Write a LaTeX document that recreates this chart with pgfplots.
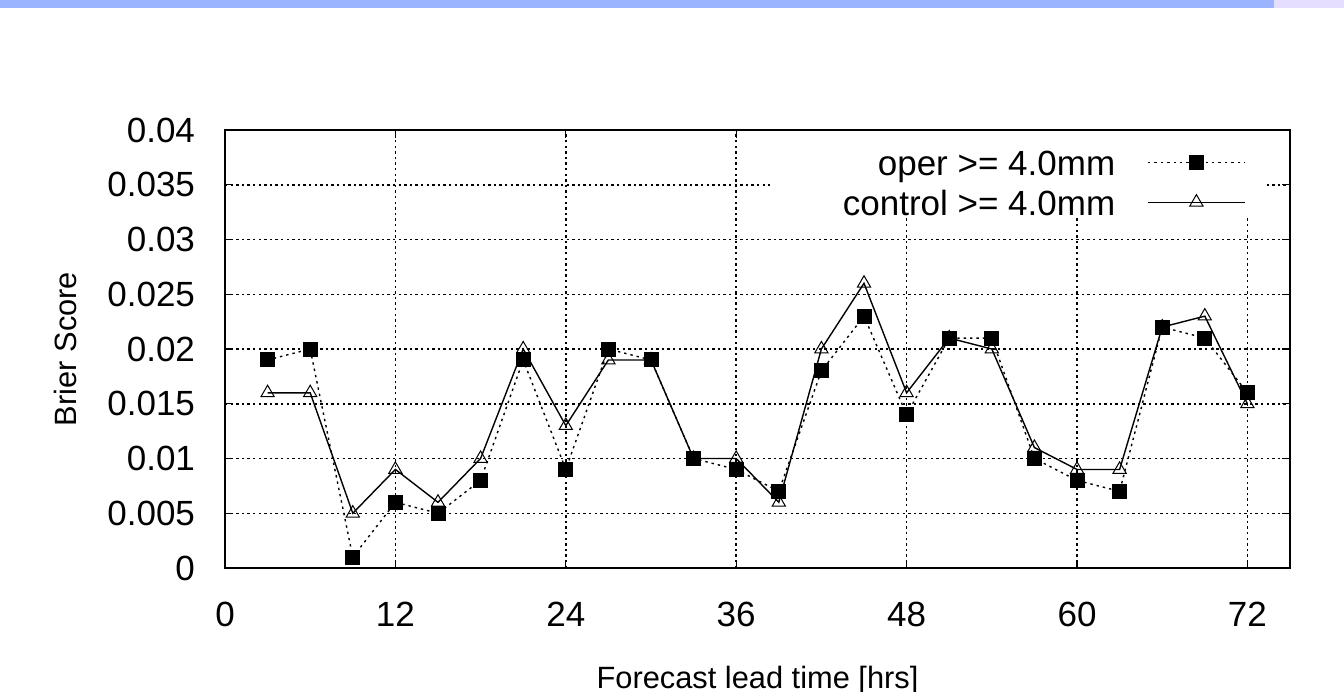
\documentclass[border=0pt]{standalone}
\usepackage{pgfplots}
\pgfplotsset{compat=1.18}
\usepackage{fontspec}
\setmainfont{Liberation Sans}
\newcommand\tf{\fontsize{17.5bp}{21bp}\selectfont}
\newcommand\lf{\fontsize{15.4bp}{18bp}\selectfont}
\definecolor{bandblue}{HTML}{9BB4FF}
\definecolor{bandpurple}{HTML}{E6DEFF}
\begin{document}
\begin{tikzpicture}
\useasboundingbox (0,0) rectangle (672bp,346bp);
\fill[white] (0,0) rectangle (672bp,346bp);
\fill[bandblue] (0,342bp) rectangle (637bp,346bp);
\fill[bandpurple] (637bp,342bp) rectangle (672bp,346bp);
\begin{axis}[
  at={(112.5bp,62bp)}, anchor=south west,
  scale only axis, width=532.5bp, height=219bp,
  xmin=0, xmax=75, ymin=0, ymax=0.04,
  xtick={0,12,24,36,48,60,72},
  ytick={0,0.005,0.01,0.015,0.02,0.025,0.03,0.035,0.04},
  yticklabels={0,0.005,0.01,0.015,0.02,0.025,0.03,0.035,0.04},
  scaled y ticks=false,
  /pgf/number format/assume math mode=true,
  tick label style={font=\tf, black},
  xticklabel shift=13.5bp, yticklabel shift=11.5bp,
  tick align=inside, major tick length=4bp,
  tick style={black, line width=0.6bp},
  axis line style={black, line width=0.9bp},
  grid=major,
  major grid style={black, line width=0.75bp, dash pattern=on 1.2bp off 1.6bp},
  xlabel={Forecast lead time [hrs]},
  ylabel={Brier Score},
  label style={font=\lf},
  xlabel style={at={(axis description cs:0.5,-0.256)}, anchor=center},
  ylabel style={at={(axis description cs:-0.150,0.5)}, anchor=center},
  legend plot pos=right,
  legend cell align=right,
  legend style={draw=none, fill=none, font=\tf, at={(0.9587,0.955)}, anchor=north east, inner sep=0bp, row sep=3.9bp, column sep=16bp,
    nodes={inner sep=0bp, text height=12.6bp, text depth=3.5bp}},
  legend image code/.code={\draw[mark repeat=2,mark phase=2,#1] plot coordinates {(0bp,2bp) (24.25bp,2bp) (48.5bp,2bp)};},
]
\fill[white] (axis description cs:0.5117,0.8014) rectangle (axis description cs:0.9765,0.997);
\addplot[black, line width=0.7bp, dash pattern=on 1.2bp off 2bp, mark=square*, mark size=3.4bp, mark options={solid, fill=black}] coordinates {
(3,0.019) (6,0.020) (9,0.001) (12,0.006) (15,0.005) (18,0.008) (21,0.019) (24,0.009)
(27,0.020) (30,0.019) (33,0.010) (36,0.009) (39,0.007) (42,0.018) (45,0.023) (48,0.014)
(51,0.021) (54,0.021) (57,0.010) (60,0.008) (63,0.007) (66,0.022) (69,0.021) (72,0.016)};
\addlegendentry{oper >= 4.0mm}
\addplot[black, line width=0.7bp, mark=triangle, mark size=3.8bp, mark options={solid, fill=white, line width=0.5bp}] coordinates {
(3,0.016) (6,0.016) (9,0.005) (12,0.009) (15,0.006) (18,0.010) (21,0.020) (24,0.013)
(27,0.019) (30,0.019) (33,0.010) (36,0.010) (39,0.006) (42,0.020) (45,0.026) (48,0.016)
(51,0.021) (54,0.020) (57,0.011) (60,0.009) (63,0.009) (66,0.022) (69,0.023) (72,0.015)};
\addlegendentry{control >= 4.0mm}
\end{axis}
\end{tikzpicture}
\end{document}
